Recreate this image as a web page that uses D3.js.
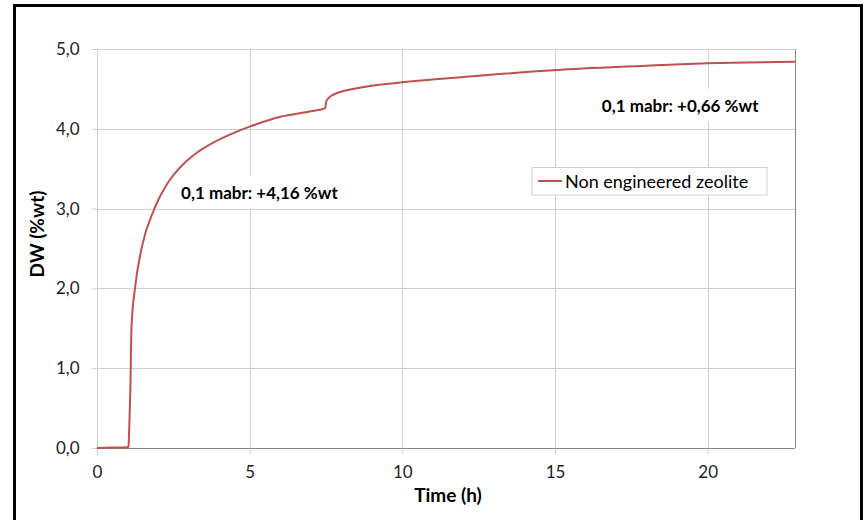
<!DOCTYPE html>
<html>
<head>
<meta charset="utf-8">
<script src="https://cdn.jsdelivr.net/npm/d3@7"></script>
<style>
  body { margin: 0; background: #fff; }
  text { font-family: Lato, "Open Sans", sans-serif; }
</style>
</head>
<body>
<script>

// data
var timeH = [0, 0.5, 1.0, 1.03, 1.06, 1.09, 1.13, 1.25, 1.47, 1.85, 1.96, 2.28, 2.73, 3.27, 3.82, 4.37, 5.02,
             5.56, 6.0, 7.0, 7.48, 7.5, 7.55, 7.75, 8.84, 9.93, 12, 15.2, 18, 20, 22.86];
var dw =    [0, 0.005, 0.01, 0.02, 0.3, 0.69, 1.52, 2.02, 2.52, 2.97, 3.07, 3.30, 3.52, 3.70, 3.83, 3.93, 4.03,
             4.10, 4.15, 4.22, 4.26, 4.33, 4.37, 4.43, 4.53, 4.58, 4.65, 4.74, 4.79, 4.82, 4.84];
var xTicks = [0, 5, 10, 15, 20];
var yTicks = [0, 1, 2, 3, 4, 5];
var seriesName = "Non engineered zeolite";
var notes = [
  {t: 5.32, v: 3.2, label: "0,1 mabr: +4,16 %wt"},
  {t: 19.1, v: 4.29, label: "0,1 mabr: +0,66 %wt"}
];

var W = 868, H = 520;
var margin = {top: 49, right: 73, bottom: 72, left: 97};
var width = W - margin.left - margin.right,
    height = H - margin.top - margin.bottom;

var svg = d3.select("body").append("svg")
    .attr("width", W)
    .attr("height", H);

// outer frame
svg.append("rect")
    .attr("x", 14.5).attr("y", 5.5)
    .attr("width", 847).attr("height", 530)
    .attr("fill", "none")
    .attr("stroke", "#000")
    .attr("stroke-width", 3);

var g = svg.append("g")
    .attr("transform", "translate(" + margin.left + "," + margin.top + ")");

var x = d3.scaleLinear().domain([0, 22.86]).range([0, width]);
var y = d3.scaleLinear().domain([0, 5]).range([height, 0]);

// grid
g.selectAll(".hgrid").data(yTicks).enter().append("line")
    .attr("x1", 0).attr("x2", width)
    .attr("y1", function(d) { return Math.round(y(d)) + 0.5; })
    .attr("y2", function(d) { return Math.round(y(d)) + 0.5; })
    .attr("stroke", "#d0d0d0").attr("stroke-width", 1);

g.selectAll(".vgrid").data(xTicks).enter().append("line")
    .attr("x1", function(d) { return Math.round(x(d)) + 0.5; })
    .attr("x2", function(d) { return Math.round(x(d)) + 0.5; })
    .attr("y1", 0).attr("y2", height)
    .attr("stroke", "#d0d0d0").attr("stroke-width", 1);

// right border
g.append("line")
    .attr("x1", width + 0.5).attr("x2", width + 0.5)
    .attr("y1", 0).attr("y2", height)
    .attr("stroke", "#868686");

// axes
var xAxis = g.append("g")
    .attr("transform", "translate(0," + (Math.round(height) + 0.5) + ")")
    .call(d3.axisBottom(x).tickValues(xTicks).tickSize(6).tickPadding(11)
      .tickFormat(d3.format("d")));
xAxis.select(".domain").attr("stroke", "#868686").attr("d", "M0.5,0H" + width);
xAxis.selectAll(".tick line").attr("stroke", "#d0d0d0");
xAxis.selectAll("text").attr("font-size", 17).attr("fill", "#222");

var yAxis = g.append("g")
    .attr("transform", "translate(0.5,0)")
    .call(d3.axisLeft(y).tickValues(yTicks).tickSize(6).tickPadding(12)
      .tickFormat(function(d) { return d3.format(".1f")(d).replace(".", ","); }));
yAxis.select(".domain").attr("stroke", "#d0d0d0").attr("d", "M0," + height + "V0");
yAxis.selectAll(".tick line").attr("stroke", "#d0d0d0");
yAxis.selectAll("text").attr("font-size", 17).attr("fill", "#222");

// curve
var line = d3.line()
    .x(function(d, i) { return x(timeH[i]); })
    .y(function(d, i) { return y(dw[i]); })
    .curve(d3.curveMonotoneX);

g.append("path")
    .datum(dw)
    .attr("fill", "none")
    .attr("stroke", "#c0504d")
    .attr("stroke-width", 2)
    .attr("d", line);

// annotations with white boxes
notes.forEach(function(n) {
  var ng = g.append("g");
  var bg = ng.append("rect").attr("fill", "#fff");
  var t = ng.append("text")
      .attr("x", x(n.t)).attr("y", y(n.v))
      .attr("text-anchor", "middle")
      .attr("dy", "0.35em")
      .attr("font-size", 17)
      .attr("font-weight", "bold")
      .attr("fill", "#000")
      .text(n.label);
  var b = t.node().getBBox();
  bg.attr("x", b.x - 7).attr("y", b.y - 6)
    .attr("width", b.width + 14).attr("height", b.height + 12);
});

// legend
var legend = svg.append("g").attr("transform", "translate(532,167.5)");
legend.append("rect")
    .attr("width", 235).attr("height", 27.5)
    .attr("fill", "#fff")
    .attr("stroke", "#d0d0d0");
legend.append("line")
    .attr("x1", 6).attr("x2", 30)
    .attr("y1", 13.5).attr("y2", 13.5)
    .attr("stroke", "#c0504d").attr("stroke-width", 2);
legend.append("text")
    .attr("x", 33).attr("y", 14)
    .attr("dy", "0.35em")
    .attr("font-size", 18)
    .attr("fill", "#000")
    .text(seriesName);

// axis titles
svg.append("text")
    .attr("x", 448).attr("y", 502)
    .attr("text-anchor", "middle")
    .attr("font-size", 19)
    .attr("font-weight", "bold")
    .text("Time (h)");

svg.append("text")
    .attr("transform", "translate(44,234) rotate(-90)")
    .attr("text-anchor", "middle")
    .attr("font-size", 19)
    .attr("font-weight", "bold")
    .text("DW (%wt)");

</script>
</body>
</html>
